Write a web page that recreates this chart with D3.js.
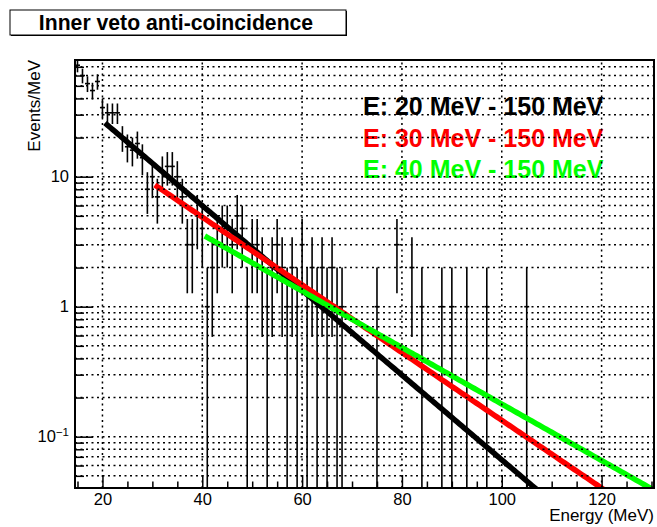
<!DOCTYPE html>
<html>
<head>
<meta charset="utf-8">
<script src="https://cdn.jsdelivr.net/npm/d3@7"></script>
<style>
  html, body { margin: 0; padding: 0; background: #fff; }
  svg { display: block; font-family: "Liberation Sans", Arial, Helvetica, sans-serif; }
</style>
</head>
<body>
<svg id="chart" width="657" height="527"></svg>
<script>
// Histogram: 1 MeV bins, bin centres and counts (Events/MeV)
const binCenters = [15,16,17,18,19,20,21,22,23,24,25,26,27,28,29,30,31,32,33,34,35,36,37,38,39,40,
  41,42,43,44,45,46,47,48,49,50,51,52,53,54,55,56,57,58,59,60,61,62,63,64,65,66,67,68,75,79,82,84,88,90,93,97,105];
const binCounts = [72,60,52,46,54,34,31,31,31,20,17,16,18,14,8,10,7,11,12,12,10,7,3,3,5,4,
  1,2,3,4,4,3,5,4,1,3,3,2,1,2,3,2,1,2,1,3,1,2,1,2,1,2,1,1,1,3,2,1,1,1,1,1,1];

// Exponential fits exp(p0 + p1*x), each with its own lower bound, upper bound 150 MeV
const fitLabels = ["E: 20 MeV - 150 MeV", "E: 30 MeV - 150 MeV", "E: 40 MeV - 150 MeV"];
const fitColors = ["#000000", "#ff0000", "#00ff00"];
const fitP0 = [4.792, 3.985, 3.278];
const fitP1 = [-0.07504, -0.05997, -0.05002];
const fitLow = [20.5, 30.5, 40.5];
const fitHigh = [150, 150, 150];

// Axis ticks
const xMajorTicks = [20, 40, 60, 80, 100, 120];
const xMinorTicks = [15,25,30,35,45,50,55,65,70,75,85,90,95,105,110,115,125,130];
const yMajorTicks = [0.1, 1, 10];
const yMinorTicks = [0.05,0.06,0.07,0.08,0.09,0.2,0.3,0.4,0.5,0.6,0.7,0.8,0.9,
  2,3,4,5,6,7,8,9,20,30,40,50,60,70];

const svg = d3.select("#chart");
const frame = { left: 75, right: 654, top: 60, bottom: 488 };

const x = d3.scaleLinear().domain([14.5, 130.5]).range([frame.left, frame.right]);
const y = d3.scaleLog().domain([0.0403, 79]).range([frame.bottom, frame.top]);

svg.append("defs").append("clipPath").attr("id", "frameClip")
  .append("rect")
  .attr("x", frame.left).attr("y", frame.top)
  .attr("width", frame.right - frame.left).attr("height", frame.bottom - frame.top);

// Title box
const title = svg.append("g");
title.append("rect").attr("x", 11).attr("y", 11).attr("width", 336).attr("height", 25).attr("fill", "#000");
title.append("rect").attr("x", 10).attr("y", 10).attr("width", 336).attr("height", 25)
  .attr("fill", "#fff").attr("stroke", "#000").attr("stroke-width", 1);
title.append("text").attr("x", 176).attr("y", 30).attr("text-anchor", "middle")
  .attr("font-size", 21.2).attr("font-weight", "bold").text("Inner veto anti-coincidence");

// Histogram error bars
const plot = svg.append("g").attr("clip-path", "url(#frameClip)");
const hist = binCenters.map((c, i) => ({ c, n: binCounts[i], e: Math.sqrt(binCounts[i]) }));
plot.selectAll("line.ey").data(hist).join("line").attr("class", "ey")
  .attr("x1", d => x(d.c)).attr("x2", d => x(d.c))
  .attr("y1", d => d.n - d.e > 0 ? y(d.n - d.e) : frame.bottom + 5)
  .attr("y2", d => y(d.n + d.e))
  .attr("stroke", "#000").attr("stroke-width", 1.6);
plot.selectAll("line.ex").data(hist).join("line").attr("class", "ex")
  .attr("x1", d => x(d.c - 0.5)).attr("x2", d => x(d.c + 0.5))
  .attr("y1", d => y(d.n)).attr("y2", d => y(d.n))
  .attr("stroke", "#000").attr("stroke-width", 1.6);

// Fit curves
const fitLine = d3.line().x(d => x(d[0])).y(d => y(d[1]));
fitP0.forEach((p0, i) => {
  const pts = d3.range(fitLow[i], fitHigh[i] + 0.01, 0.5).map(e => [e, Math.exp(p0 + fitP1[i] * e)]);
  plot.append("path").datum(pts).attr("d", fitLine)
    .attr("fill", "none").attr("stroke", fitColors[i]).attr("stroke-width", 5.5);
});

// Fit range labels
svg.append("g").selectAll("text").data(fitLabels).join("text")
  .attr("x", 363).attr("y", (d, i) => 115 + i * 31.5)
  .attr("font-size", 25).attr("font-weight", "bold")
  .attr("fill", (d, i) => fitColors[i]).text(d => d);

// Grid (dotted) at major x ticks and at every y tick
const grid = svg.append("g").attr("stroke", "#000").attr("stroke-width", 1.5).attr("stroke-dasharray", "2,3.5");
grid.selectAll("line.gx").data(xMajorTicks).join("line").attr("class", "gx")
  .attr("x1", d => x(d)).attr("x2", d => x(d)).attr("y1", frame.bottom).attr("y2", frame.top);
grid.selectAll("line.gy").data(yMajorTicks.concat(yMinorTicks)).join("line").attr("class", "gy")
  .attr("x1", frame.left).attr("x2", frame.right).attr("y1", d => y(d)).attr("y2", d => y(d));

// Axes (ticks pointing into the frame)
const xAxis = svg.append("g").attr("transform", `translate(0,${frame.bottom})`)
  .call(d3.axisBottom(x).tickValues(xMajorTicks).tickSizeInner(-13).tickSizeOuter(0).tickPadding(5)
    .tickFormat(d3.format("d")));
const xMinor = svg.append("g").attr("transform", `translate(0,${frame.bottom})`)
  .call(d3.axisBottom(x).tickValues(xMinorTicks).tickSizeInner(-6.5).tickSizeOuter(0).tickFormat(""));

const yAxis = svg.append("g").attr("transform", `translate(${frame.left},0)`)
  .call(d3.axisLeft(y).tickValues(yMajorTicks).tickSizeInner(-18).tickSizeOuter(0).tickPadding(6)
    .tickFormat(d => d >= 1 ? d3.format("d")(d) : ""));
const yMinor = svg.append("g").attr("transform", `translate(${frame.left},0)`)
  .call(d3.axisLeft(y).tickValues(yMinorTicks).tickSizeInner(-9).tickSizeOuter(0).tickFormat(""));

[xAxis, xMinor, yAxis, yMinor].forEach(g => {
  g.select(".domain").remove();
  g.selectAll(".tick line").attr("stroke", "#000").attr("stroke-width", 1.5);
  g.selectAll("text").attr("font-size", 16.5).attr("fill", "#000")
    .attr("font-family", "'Liberation Sans', Arial, sans-serif");
});

// 10^-1 label with superscript
yAxis.selectAll(".tick").filter(d => d < 1).select("text")
  .call(t => {
    t.append("tspan").text("10");
    t.append("tspan").attr("dy", "-0.55em").attr("font-size", 11.5).text("\u22121");
  });

// Frame
svg.append("rect").attr("x", frame.left).attr("y", frame.top)
  .attr("width", frame.right - frame.left).attr("height", frame.bottom - frame.top)
  .attr("fill", "none").attr("stroke", "#000").attr("stroke-width", 2);

// Axis titles
svg.append("text").attr("transform", `translate(40,${frame.top}) rotate(-90)`)
  .attr("text-anchor", "end").attr("font-size", 17).text("Events/MeV");
svg.append("text").attr("x", frame.right).attr("y", 521)
  .attr("text-anchor", "end").attr("font-size", 17).text("Energy (MeV)");
</script>
</body>
</html>
